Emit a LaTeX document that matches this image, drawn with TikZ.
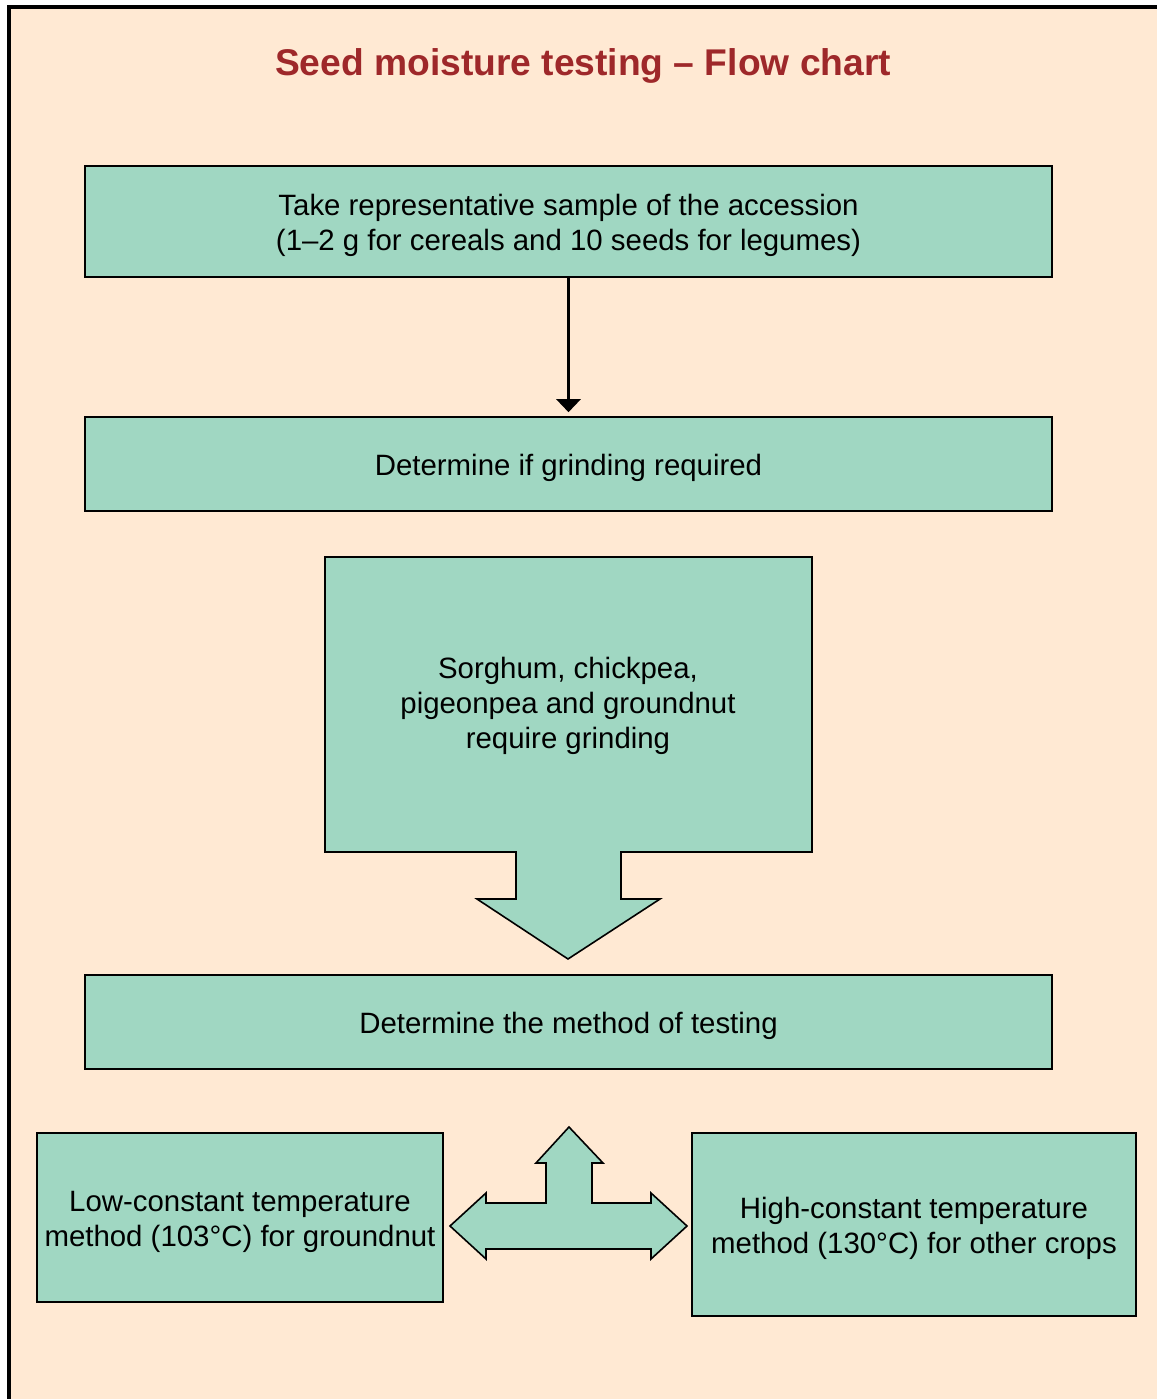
\documentclass[tikz,border=0pt]{standalone}
\usepackage{fontspec}
\setmainfont{Liberation Sans}
\usepackage{xcolor}
\usetikzlibrary{arrows.meta,positioning,calc}

\definecolor{paper}{RGB}{255,233,211}
\definecolor{boxgreen}{RGB}{160,215,194}
\definecolor{titlered}{RGB}{158,40,42}
\newcommand{\topgap}{\rule{0pt}{14.7pt}}

\begin{document}
\begin{tikzpicture}[
            x=0.5pt, y=-0.5pt,
            box/.style={rectangle, draw, line width=0.8pt, fill=boxgreen, align=center, inner sep=0pt, font=\fontsize{14.7}{17.5}\selectfont},
            bigarrow/.style={draw, line width=0.8pt, fill=boxgreen, line join=miter},
            arrow/.style={-{Triangle[width=12pt,length=6.5pt]}, line width=1.5pt}
        ]
            % Page
            \useasboundingbox (0,0) rectangle (1157,1399);
            \fill[paper] (9,7) rectangle (1157,1399);
            \draw[line width=1.6pt] (9,1399) -- (9,7) -- (1157,7);

            % Title
            \node[font=\fontsize{18.6}{22}\selectfont\bfseries, text=titlered] (title) at (583,66) {Seed moisture testing -- Flow chart};

            % Step 1
            \node[box, minimum width=483.5pt, minimum height=55.5pt] (sample) at (568.5,221.5) {\topgap Take representative sample of the accession\\(1--2 g for cereals and 10 seeds for legumes)};

            % Step 2
            \node[box, minimum width=483.5pt, minimum height=47pt] (grinding) at (568.5,464) {\topgap Determine if grinding required};
            \draw[arrow, shorten >=2pt] (sample) -- (grinding);

            % Crops that need grinding (box with arrow)
            \draw[bigarrow] (325,557) -- (812,557) -- (812,852) -- (621,852) -- (621,899) -- (660,899)
                -- (568,959) -- (477,899) -- (516,899) -- (516,852) -- (325,852) -- cycle;
            \node[align=center, font=\fontsize{14.7}{17.5}\selectfont] (crops) at (568,706) {Sorghum, chickpea,\\pigeonpea and groundnut\\require grinding};

            % Step 3
            \node[box, minimum width=483.5pt, minimum height=47pt] (method) at (568.5,1022) {\topgap Determine the method of testing};

            % Methods
            \node[box, minimum width=203pt, minimum height=84.5pt] (lowtemp) at (240,1217.5) {\topgap Low-constant temperature\\method (103°C) for groundnut};
            \node[box, minimum width=222pt, minimum height=91.5pt] (hightemp) at (914,1224.5) {\topgap High-constant temperature\\method (130°C) for other crops};

            % Three-way arrow
            \draw[bigarrow] (450,1226) -- (486,1193) -- (486,1203) -- (546,1203) -- (546,1163) -- (536,1163)
                -- (569,1127) -- (603,1163) -- (592,1163) -- (592,1203) -- (651,1203) -- (651,1193)
                -- (687,1226) -- (651,1259) -- (651,1249) -- (486,1249) -- (486,1259) -- cycle;
        \end{tikzpicture}
\end{document}
